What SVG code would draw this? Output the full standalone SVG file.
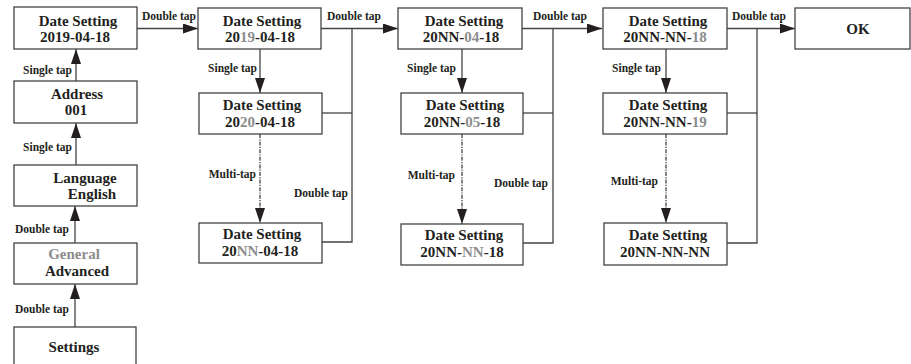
<svg xmlns="http://www.w3.org/2000/svg" width="911" height="364" viewBox="0 0 911 364">
<style>
.box{fill:#fff;stroke:#444;stroke-width:1.3}
.t{font-family:"Liberation Serif",serif;font-weight:bold;font-size:15px;fill:#231f20;text-anchor:middle}
.g{fill:#8c8c8c}
.lbl{font-family:"Liberation Serif",serif;font-weight:bold;font-size:11.5px;fill:#231f20}
.ln{fill:none;stroke:#444;stroke-width:1.3}
.dash{stroke-dasharray:4 1.2 1.2 1.2}
</style>
<defs>
<marker id="ah" markerUnits="userSpaceOnUse" markerWidth="16" markerHeight="11" refX="15" refY="5" orient="auto">
<path d="M0,0 L15,5 L0,10 Z" fill="#231f20"/>
</marker>
</defs>
<rect width="911" height="364" fill="#fff"/>
<g id="connectors">
<line class="ln" x1="76" y1="81" x2="76" y2="49" marker-end="url(#ah)"/>
<line class="ln" x1="76" y1="165" x2="76" y2="123" marker-end="url(#ah)"/>
<line class="ln" x1="75" y1="243" x2="75" y2="206" marker-end="url(#ah)"/>
<line class="ln" x1="75" y1="327" x2="75" y2="284" marker-end="url(#ah)"/>
<line class="ln" x1="137" y1="28.5" x2="198" y2="28.5" marker-end="url(#ah)"/>
<line class="ln" x1="260" y1="49" x2="260" y2="93" marker-end="url(#ah)"/>
<line class="ln dash" x1="260" y1="134" x2="260" y2="223" marker-end="url(#ah)"/>
<line class="ln" x1="321" y1="28.5" x2="398" y2="28.5" marker-end="url(#ah)"/>
<polyline class="ln" points="352,28.5 352,242 322,242"/>
<line class="ln" x1="322" y1="113" x2="352" y2="113"/>
<line class="ln" x1="462" y1="49" x2="462" y2="93" marker-end="url(#ah)"/>
<line class="ln dash" x1="462" y1="134" x2="462" y2="224" marker-end="url(#ah)"/>
<line class="ln" x1="522" y1="28.5" x2="602" y2="28.5" marker-end="url(#ah)"/>
<polyline class="ln" points="553,28.5 553,243 523,243"/>
<line class="ln" x1="523" y1="113" x2="553" y2="113"/>
<line class="ln" x1="666" y1="49" x2="666" y2="93" marker-end="url(#ah)"/>
<line class="ln dash" x1="666" y1="134" x2="666" y2="223" marker-end="url(#ah)"/>
<line class="ln" x1="727" y1="28.5" x2="795" y2="28.5" marker-end="url(#ah)"/>
<polyline class="ln" points="757,28.5 757,243 727,243"/>
<line class="ln" x1="727" y1="113" x2="757" y2="113"/>
<text class="lbl" x="72" y="74" text-anchor="end">Single tap</text>
<text class="lbl" x="72" y="151" text-anchor="end">Single tap</text>
<text class="lbl" x="69" y="233" text-anchor="end">Double tap</text>
<text class="lbl" x="69" y="313" text-anchor="end">Double tap</text>
<text class="lbl" x="142" y="20">Double tap</text>
<text class="lbl" x="257" y="72" text-anchor="end">Single tap</text>
<text class="lbl" x="256" y="178" text-anchor="end">Multi-tap</text>
<text class="lbl" x="327" y="20">Double tap</text>
<text class="lbl" x="348" y="197" text-anchor="end">Double tap</text>
<text class="lbl" x="456" y="72" text-anchor="end">Single tap</text>
<text class="lbl" x="455" y="179" text-anchor="end">Multi-tap</text>
<text class="lbl" x="533" y="20">Double tap</text>
<text class="lbl" x="548" y="187" text-anchor="end">Double tap</text>
<text class="lbl" x="661" y="72" text-anchor="end">Single tap</text>
<text class="lbl" x="658" y="185" text-anchor="end">Multi-tap</text>
<text class="lbl" x="732" y="20">Double tap</text>
</g>
<g id="nodeA">
<rect class="box" x="14" y="7" width="123" height="42"/>
<text class="t" x="78" y="26">Date Setting</text>
<text class="t" x="75" y="42">2019-04-18</text>
</g>
<g id="address">
<rect class="box" x="14" y="81" width="123" height="42"/>
<text class="t" x="77" y="99">Address</text>
<text class="t" x="76" y="115">001</text>
</g>
<g id="language">
<rect class="box" x="14" y="165" width="123" height="41"/>
<text class="t" x="85" y="183">Language</text>
<text class="t" x="92" y="199">English</text>
</g>
<g id="general">
<rect class="box" x="14" y="243" width="123" height="41"/>
<text class="t g" x="74" y="259">General</text>
<text class="t" x="77" y="276">Advanced</text>
</g>
<g id="settings">
<rect class="box" x="14" y="327" width="122" height="42"/>
<text class="t" x="74" y="352">Settings</text>
</g>
<g id="nodeB1">
<rect class="box" x="198" y="8" width="123" height="41"/>
<text class="t" x="262" y="26">Date Setting</text>
<text class="t" x="260" y="42">20<tspan class="g">19</tspan>-04-18</text>
</g>
<g id="nodeB2">
<rect class="box" x="199" y="93" width="123" height="41"/>
<text class="t" x="262" y="110">Date Setting</text>
<text class="t" x="260" y="127">20<tspan class="g">20</tspan>-04-18</text>
</g>
<g id="nodeB3">
<rect class="box" x="199" y="223" width="123" height="40"/>
<text class="t" x="262" y="239">Date Setting</text>
<text class="t" x="260" y="256">20<tspan class="g">NN</tspan>-04-18</text>
</g>
<g id="nodeC1">
<rect class="box" x="398" y="8" width="124" height="41"/>
<text class="t" x="464" y="26">Date Setting</text>
<text class="t" x="461" y="42">20NN-<tspan class="g">04</tspan>-18</text>
</g>
<g id="nodeC2">
<rect class="box" x="401" y="93" width="122" height="41"/>
<text class="t" x="465" y="110">Date Setting</text>
<text class="t" x="462" y="127">20NN-<tspan class="g">05</tspan>-18</text>
</g>
<g id="nodeC3">
<rect class="box" x="401" y="224" width="122" height="41"/>
<text class="t" x="464" y="240">Date Setting</text>
<text class="t" x="462" y="257">20NN-<tspan class="g">NN</tspan>-18</text>
</g>
<g id="nodeD1">
<rect class="box" x="603" y="8" width="124" height="41"/>
<text class="t" x="668" y="26">Date Setting</text>
<text class="t" x="665" y="42">20NN-NN-<tspan class="g">18</tspan></text>
</g>
<g id="nodeD2">
<rect class="box" x="603" y="93" width="124" height="41"/>
<text class="t" x="668" y="110">Date Setting</text>
<text class="t" x="665" y="127">20NN-NN-<tspan class="g">19</tspan></text>
</g>
<g id="nodeD3">
<rect class="box" x="604" y="223" width="123" height="42"/>
<text class="t" x="668" y="240">Date Setting</text>
<text class="t" x="665" y="257">20NN-NN-NN</text>
</g>
<g id="ok">
<rect class="box" x="795" y="8" width="115" height="41"/>
<text class="t" x="858" y="34">OK</text>
</g>
</svg>
